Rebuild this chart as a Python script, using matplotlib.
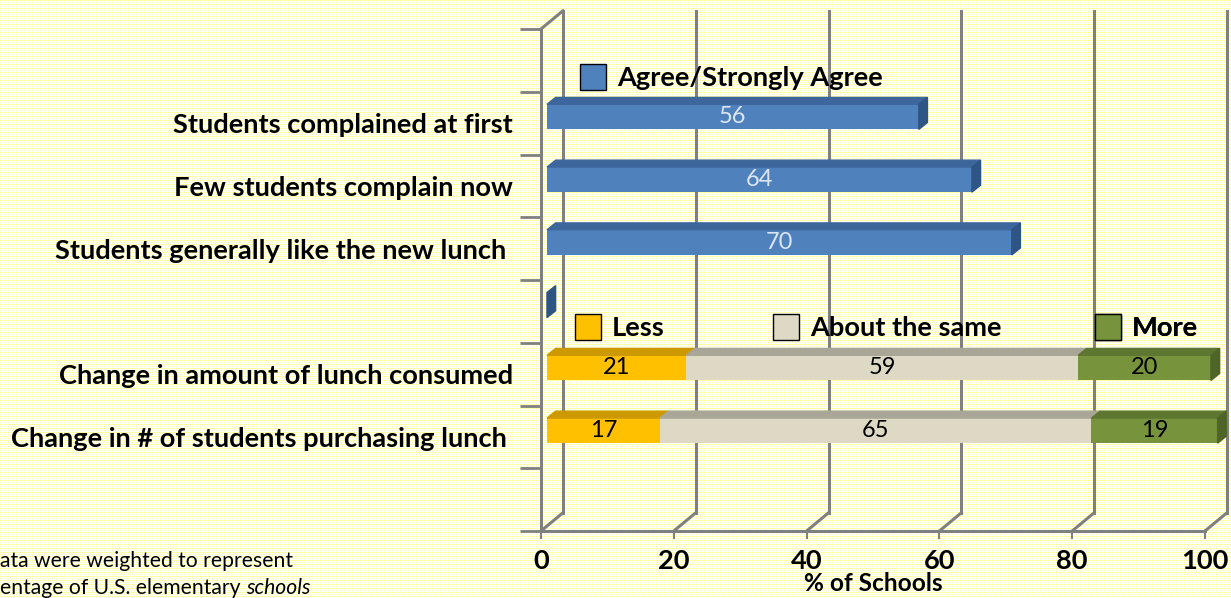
import numpy as np
import matplotlib.pyplot as plt
from matplotlib.patches import Polygon, Patch

# data
rows = ["Students complained at first", "Few students complain now",
        "Students generally like the new lunch ", "",
        "Change in amount of lunch consumed",
        "Change in # of students purchasing lunch "]
row_y = [6.5, 5.5, 4.5, 3.5, 2.5, 1.5]

agree = [56, 64, 70, 0]
less = [21, 17]
same = [59, 65]
more = [20, 19]

ticks_x = [0, 20, 40, 60, 80, 100]

plt.rcParams['font.family'] = ['Lato', 'DejaVu Sans']

W, H = 1231, 598
fig = plt.figure(figsize=(W / 100, H / 100), dpi=100)

# dotted pale yellow background
yy, xx = np.mgrid[0:H, 0:W]
bg = np.ones((H, W, 3))
dots = ((xx % 4 == 0) & (yy % 2 == 0)) | ((yy % 4 == 0) & (xx % 2 == 0))
bg[dots] = [1.0, 1.0, 0.62]
fig.figimage(bg, 0, 0, zorder=-10)

ax = fig.add_axes([541 / W, 67 / H, 664 / W, 502 / H])
ax.patch.set_alpha(0)
for s in ax.spines.values():
    s.set_visible(False)
ax.set_xlim(0, 100)
ax.set_ylim(0, 8)

grey = '#808080'
DX, DY = 3.3, 0.29          # wall depth
bx, by = 0.9, 0.1           # bar offset from front plane
bdx, bdy = 1.3, 0.11        # bar depth
bh = 0.4

# walls / grid
for x in ticks_x:
    ax.plot([x + DX, x + DX], [DY, 8 + DY], color=grey, lw=2.2, clip_on=False, zorder=1)
    ax.plot([x, x + DX], [0, DY], color=grey, lw=2.2, clip_on=False, zorder=1)
ax.plot([0, 100], [0, 0], color=grey, lw=2.2, clip_on=False, zorder=1)
ax.plot([0, 0], [0, 8], color=grey, lw=2.2, clip_on=False, zorder=1)
ax.plot([0, DX], [8, 8 + DY], color=grey, lw=2.2, clip_on=False, zorder=1)


def bar3d(y, left, width, front, top, side=None, label=None, tcolor='black'):
    y0 = y - bh / 2 + by
    x0 = left + bx
    if width > 0:
        ax.barh(y + by, width, left=x0, height=bh, color=front, zorder=3, clip_on=False)
        ax.add_patch(Polygon([(x0, y0 + bh), (x0 + width, y0 + bh),
                              (x0 + width + bdx, y0 + bh + bdy), (x0 + bdx, y0 + bh + bdy)],
                             closed=True, color=top, zorder=3, clip_on=False))
    if side is not None:
        xe = x0 + width
        ax.add_patch(Polygon([(xe, y0), (xe, y0 + bh), (xe + bdx, y0 + bh + bdy), (xe + bdx, y0 + bdy)],
                             closed=True, color=side, zorder=3, clip_on=False))
    if label is not None:
        ax.text(x0 + width / 2, y + by, label, ha='center', va='center',
                fontsize=17, color=tcolor, zorder=4)


blue, blue_top, blue_side = '#4F81BD', '#3D679C', '#2F5585'
for y, v in zip(row_y[:4], agree):
    bar3d(y, 0, v, blue, blue_top, blue_side, str(v) if v else None, '#DCE6F2')

seg_cols = [('#FFC000', '#CC9A00'), ('#DDD9C4', '#A9A697'), ('#77933C', '#5E7730')]
for i, y in enumerate(row_y[4:]):
    vals = [less[i], same[i], more[i]]
    left = 0
    for j, v in enumerate(vals):
        fc, tc = seg_cols[j]
        bar3d(y, left, v, fc, tc, '#4F6427' if j == 2 else None, str(v))
        left += v

# axes ticks
fs = 19.6
ax.set_xticks(ticks_x)
ax.set_xticklabels([str(t) for t in ticks_x], fontsize=fs, fontweight='bold')
ax.tick_params(axis='x', length=6, width=1.5, color=grey, pad=7)
ax.set_xlabel('% of Schools', fontsize=17.6, fontweight='bold', labelpad=-1)

ax.set_yticks(np.arange(0, 9))
ax.set_yticklabels([])
ax.tick_params(axis='y', which='major', length=15, width=2, color=grey)
ax.set_yticks(row_y, minor=True)
ax.set_yticklabels(rows, minor=True, fontsize=fs, fontweight='bold')
ax.tick_params(axis='y', which='minor', length=0, pad=20)

# legends
legs = [('Agree/Strongly Agree', blue, 580, 77),
        ('Less', '#FFC000', 575, 327),
        ('About the same', '#DDD9C4', 773, 327),
        ('More', '#77933C', 1095, 327)]
for name, c, lx, ly in legs:
    lg = ax.legend(handles=[Patch(facecolor=c, edgecolor='black', label=name)],
                   loc='center left', bbox_to_anchor=(lx / W, 1 - ly / H),
                   bbox_transform=fig.transFigure, frameon=False, borderpad=0,
                   borderaxespad=0, handlelength=0.95, handleheight=1.1,
                   handletextpad=0.4, prop={'size': fs, 'weight': 'bold'})
    ax.add_artist(lg)

# footnote
fig.text(0, 1 - 561 / H, 'ata were weighted to represent', fontsize=15.2, va='center')
t2 = fig.text(0, 1 - 588 / H, 'entage of U.S. elementary ', fontsize=15.2, va='center')
ax.annotate('schools', xy=(1, 0.5), xycoords=t2, va='center', ha='left',
            fontsize=15.2, style='italic', annotation_clip=False)
fig.savefig('out.png', dpi=100)
